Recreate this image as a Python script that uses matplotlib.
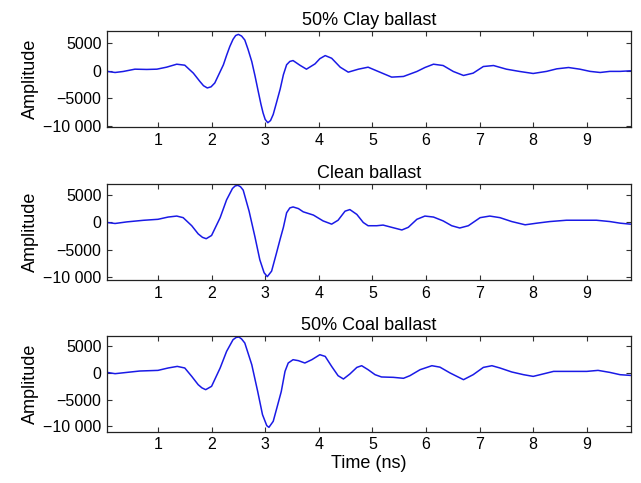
import numpy as np
import matplotlib
matplotlib.use('Agg')
import matplotlib.pyplot as plt

plt.rcParams['font.family'] = ['Liberation Sans', 'DejaVu Sans']

# Traces: time (ns) and amplitude
clay_t = [0.05, 0.2, 0.35, 0.57, 0.79, 0.98, 1.16, 1.35, 1.5, 1.66, 1.78, 1.85, 1.92, 1.99,
          2.06, 2.22, 2.28, 2.34, 2.40, 2.45, 2.5, 2.56, 2.62, 2.68, 2.75, 2.81, 2.87, 2.92,
          2.96, 3.0, 3.05, 3.10, 3.15, 3.21, 3.28, 3.34, 3.40, 3.46, 3.52, 3.65, 3.77, 3.93,
          4.02, 4.12, 4.24, 4.40, 4.55, 4.74, 4.92, 5.11, 5.36, 5.58, 5.83, 5.98, 6.14, 6.32,
          6.51, 6.70, 6.88, 7.07, 7.26, 7.5, 7.75, 8.0, 8.25, 8.44, 8.66, 8.87, 9.06, 9.25,
          9.43, 9.62, 9.81]
clay_a = [-100, -300, -120, 300, 250, 300, 660, 1200, 1020, -420, -1900, -2700, -3100, -2900,
          -2200, 1080, 2800, 4400, 5700, 6400, 6600, 6300, 5580, 3900, 1680, -900, -3700, -6000,
          -7600, -8800, -9400, -9000, -7900, -5800, -3300, -700, 1100, 1700, 1860, 1000, 300, 1260,
          2200, 2760, 2280, 660, -240, 300, 660, -120, -1140, -1020, -120, 600, 1200, 960,
          -120, -840, -420, 780, 960, 300, -120, -480, -100, 360, 600, 300, -100, -300,
          -100, -100, 0]

clean_t = [0.05, 0.2, 0.42, 0.73, 1.0, 1.19, 1.35, 1.47, 1.63, 1.75, 1.83, 1.90, 2.0,
           2.16, 2.28, 2.39, 2.44, 2.49, 2.54, 2.59, 2.70, 2.81, 2.90, 2.98, 3.04, 3.12,
           3.21, 3.28, 3.34, 3.40, 3.46, 3.52, 3.62, 3.71, 3.90, 4.08, 4.24, 4.36, 4.49,
           4.58, 4.71, 4.83, 4.92, 5.08, 5.20, 5.36, 5.55, 5.67, 5.83, 5.98, 6.14, 6.32,
           6.48, 6.63, 6.79, 7.01, 7.19, 7.38, 7.60, 7.85, 8.07, 8.31, 8.62, 8.93, 9.18,
           9.43, 9.62, 9.81]
clean_a = [0, -180, 110, 400, 580, 990, 1170, 880, -590, -2070, -2700, -2950, -2360,
           880, 4120, 6190, 6650, 6770, 6500, 5890, 2060, -2650, -6780, -9140, -9850, -8850,
           -5600, -3000, -880, 1770, 2650, 2830, 2530, 1940, 1350, 290, -300, 410, 2060,
           2350, 1470, 0, -590, -590, -470, -880, -1360, -880, 580, 1170, 990, 290,
           -590, -1000, -590, 880, 1170, 880, 170, -420, -120, 170, 410, 410, 410,
           170, -120, -300]

coal_t = [0.05, 0.2, 0.42, 0.66, 1.0, 1.19, 1.36, 1.5, 1.63, 1.75, 1.82, 1.89, 2.0,
          2.16, 2.28, 2.40, 2.46, 2.51, 2.56, 2.62, 2.75, 2.86, 2.95, 3.03, 3.07, 3.15,
          3.22, 3.30, 3.37, 3.43, 3.52, 3.62, 3.74, 3.87, 4.02, 4.12, 4.24, 4.36, 4.46,
          4.58, 4.71, 4.80, 4.92, 5.05, 5.17, 5.39, 5.58, 5.70, 5.89, 6.11, 6.26, 6.45,
          6.70, 6.88, 7.07, 7.23, 7.38, 7.60, 7.82, 8.0, 8.13, 8.38, 8.62, 9.0, 9.21,
          9.43, 9.62, 9.81]
coal_a = [110, -130, 110, 370, 490, 940, 1240, 940, -640, -2200, -2800, -3140, -2510,
          940, 4060, 6260, 6700, 6770, 6400, 5640, 1560, -3460, -7840, -9910, -10230, -9100,
          -6500, -3500, 300, 1880, 2500, 2320, 1880, 2500, 3440, 3120, 1240, -510, -1130,
          -190, 1050, 1370, 620, -320, -750, -820, -1000, -510, 620, 1370, 1100, 0,
          -1260, -320, 1050, 1370, 940, 190, -320, -640, -320, 300, 300, 300, 490,
          110, -320, -450]

titles = ['50% Clay ballast', 'Clean ballast', '50% Coal ballast']
series_t = [clay_t, clean_t, coal_t]
series_a = [clay_a, clean_a, coal_a]
ylims = [(-10180, 7230), (-10490, 7000), (-11070, 7020)]
yticks = [-10000, -5000, 0, 5000]
ytick_labels = ['\u221210 000', '\u22125000', '0', '5000']
xticks = [1, 2, 3, 4, 5, 6, 7, 8, 9]

fig = plt.figure(figsize=(6.41, 4.83), dpi=100)
bottoms = [0.737, 0.420, 0.106]

for i in range(3):
    ax = fig.add_axes([0.167, bottoms[i], 0.817, 0.199])
    ax.plot(series_t[i], series_a[i], color='#1a1ae6', lw=1.1)
    ax.set_xlim(0.05, 9.82)
    ax.set_ylim(*ylims[i])
    ax.set_xticks(xticks)
    ax.set_yticks(yticks)
    ax.set_yticklabels(ytick_labels)
    ax.tick_params(direction='in', top=True, right=True, length=3.5, width=0.8,
                   labelsize=11.5, pad=4, color='#333333')
    for s in ax.spines.values():
        s.set_linewidth(0.9)
        s.set_color('#222222')
    ax.set_title(titles[i], fontsize=13, pad=4)
    ax.set_ylabel('Amplitude', fontsize=13, labelpad=3)
    if i == 2:
        ax.set_xlabel('Time (ns)', fontsize=13, labelpad=2)

fig.savefig('out.png', dpi=100)
